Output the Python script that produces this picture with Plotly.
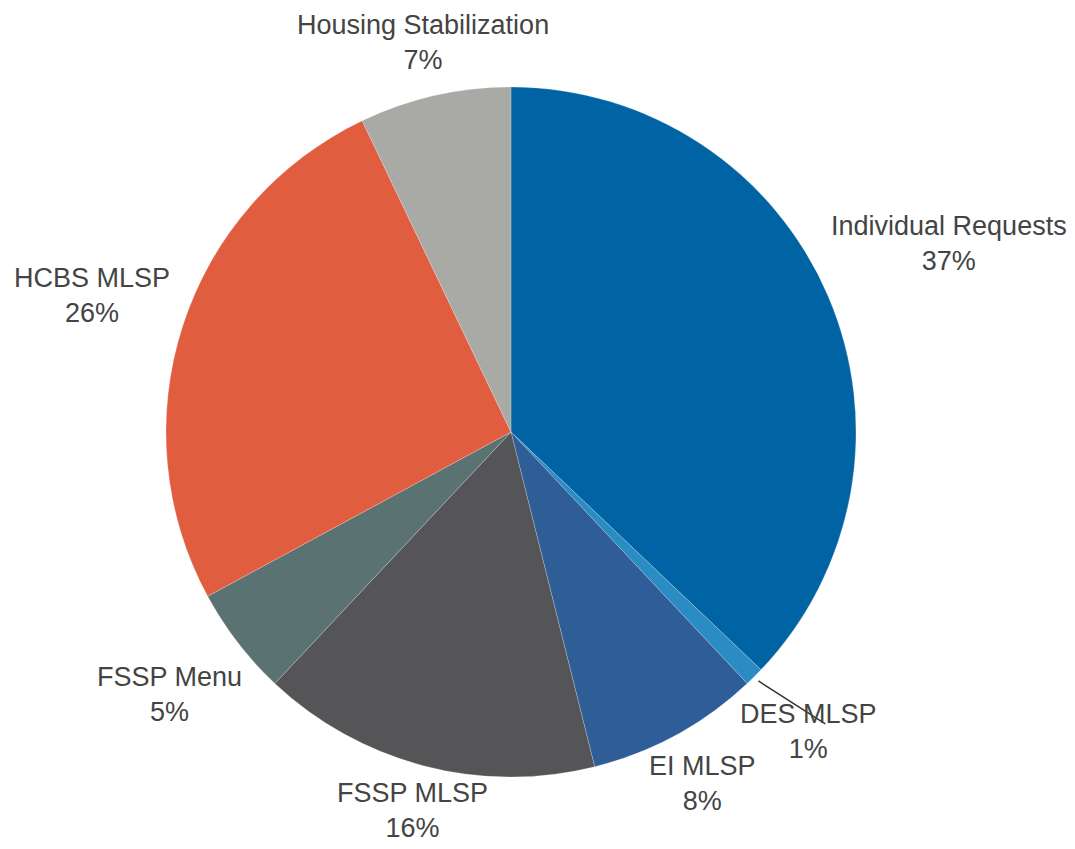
import math
import plotly.graph_objects as go

labels = ["Individual Requests", "DES MLSP", "EI MLSP", "FSSP MLSP",
          "FSSP Menu", "HCBS MLSP", "Housing Stabilization"]
values = [37.1, 0.9, 8.1, 15.9, 5.1, 25.8, 7.1]
colors = ["#0063A3", "#2B8CC3", "#2E5D98", "#555558",
          "#5A7272", "#E15D40", "#A9AAA6"]

W, H = 1075, 849
M = dict(l=0, r=69, t=79, b=80)
plotW = W - M["l"] - M["r"]
plotH = H - M["t"] - M["b"]
R = min(plotW, plotH) / 2
FS = 27
FONT = dict(family="Liberation Sans, Arial, sans-serif", size=FS, color="#444444")
LINE_H = 70  # approx height of a two-line label box, px

# approximate Arial/Liberation Sans advance widths (em) for label layout
CW = {"A": .667, "B": .667, "C": .722, "D": .722, "E": .667, "F": .611, "H": .722,
      "I": .278, "L": .556, "M": .833, "P": .667, "R": .722, "S": .667,
      "a": .556, "b": .556, "d": .556, "e": .556, "g": .556, "i": .222, "l": .222,
      "n": .556, "o": .556, "q": .556, "s": .5, "t": .278, "u": .556, "v": .5,
      "z": .5, " ": .278, "%": .889}


def text_w(t):
    return sum(CW.get(ch, .556) for ch in t) * FS


fig = go.Figure(go.Pie(
    labels=labels,
    values=values,
    sort=False,
    direction="clockwise",
    rotation=0,
    marker=dict(colors=colors, line=dict(color="rgba(255,255,255,0.35)", width=0.6)),
    textinfo="none",
    showlegend=False,
    hoverinfo="label+percent",
))

total = sum(values)
cum = 0.0
annotations = []
shapes = []
for lab, v in zip(labels, values):
    mid = (cum + v / 2) / total * 2 * math.pi
    cum += v
    s, c = math.sin(mid), math.cos(mid)
    pct = f"{round(v / total * 100):d}%"
    w = max(text_w(lab), text_w(pct))
    g = -13 + 25 * abs(s)
    rc = R + g + abs(s) * w / 2 + abs(c) * LINE_H / 2
    annotations.append(dict(
        x=0.5 + rc * s / plotW, y=0.5 + rc * c / plotH, xref="paper", yref="paper",
        text=f"{lab}<br>{pct}",
        showarrow=False, xanchor="center", yanchor="middle", align="center", font=FONT,
    ))
    if v / total < 0.02:
        r0, r1 = R + 6, R + 84
        ang = mid - 0.04
        shapes.append(dict(
            type="line", xref="paper", yref="paper",
            x0=0.5 + r0 * math.sin(mid) / plotW, y0=0.5 + r0 * math.cos(mid) / plotH,
            x1=0.5 + r1 * math.sin(ang) / plotW, y1=0.5 + r1 * math.cos(ang) / plotH,
            line=dict(color="#333333", width=1.5),
        ))

fig.update_layout(
    width=W, height=H,
    margin=M,
    paper_bgcolor="white",
    plot_bgcolor="white",
    showlegend=False,
    annotations=annotations,
    shapes=shapes,
)

fig.write_html("out.html")
